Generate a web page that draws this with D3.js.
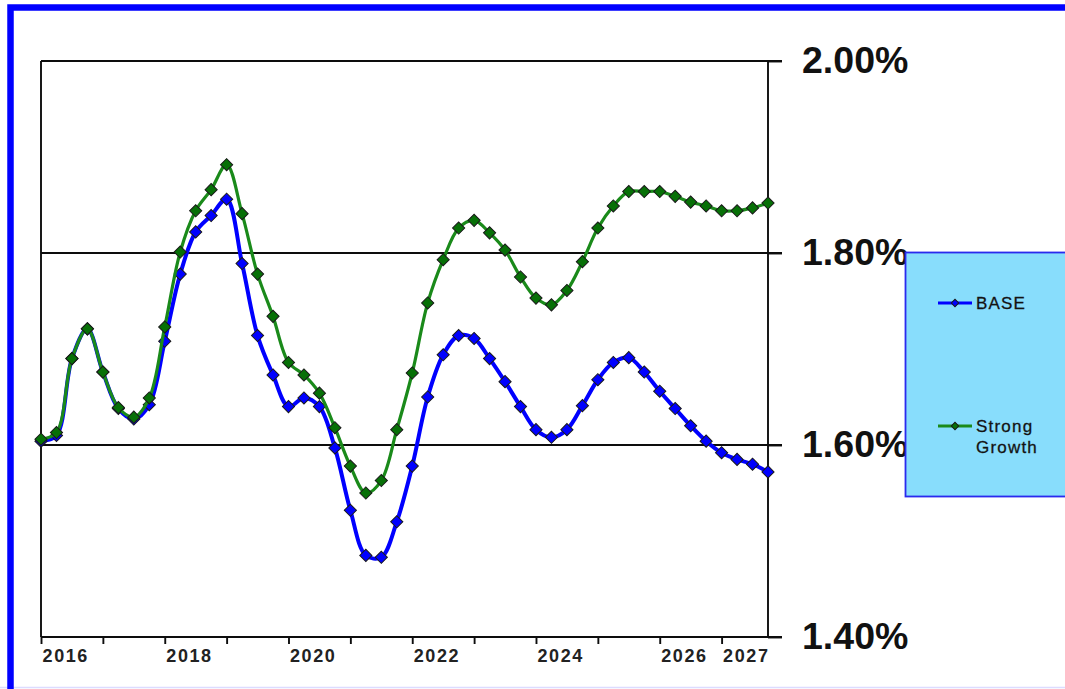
<!DOCTYPE html>
<html>
<head>
<meta charset="utf-8">
<script src="https://cdn.jsdelivr.net/npm/d3@7"></script>
<style>
  html, body { margin: 0; padding: 0; background: #fff; overflow: hidden; }
  svg { display: block; }
</style>
</head>
<body>
<svg id="chart" width="1065" height="689"></svg>
<script>
// Quarterly series, 2016 Q1 through 2027 Q4
const firstYear = 2016;
const yearTicks = [2016, 2017, 2018, 2019, 2020, 2021, 2022, 2023, 2024, 2025, 2026, 2027];
const yearLabels = [2016, 2018, 2020, 2022, 2024, 2026, 2027];
const rateTicks = [1.40, 1.60, 1.80, 2.00];
const gridRates = [1.60, 1.80];
const seriesNames = ["BASE", "Strong Growth"];

const baseValues = [
  1.604, 1.610, 1.690, 1.721, 1.676, 1.638, 1.627, 1.642, 1.708, 1.778, 1.822, 1.839, 1.856,
  1.789, 1.714, 1.673, 1.640, 1.649, 1.640, 1.597, 1.532, 1.485, 1.483, 1.520, 1.578,
  1.650, 1.694, 1.714, 1.711, 1.690, 1.666, 1.640, 1.616, 1.608, 1.616, 1.641, 1.668,
  1.686, 1.691, 1.676, 1.656, 1.638, 1.620, 1.604, 1.592, 1.585, 1.580, 1.572
];
const strongValues = [
  1.606, 1.613, 1.690, 1.721, 1.676, 1.639, 1.629, 1.649, 1.723, 1.801, 1.844, 1.866, 1.892,
  1.841, 1.778, 1.734, 1.686, 1.673, 1.654, 1.618, 1.578, 1.550, 1.563, 1.616, 1.675,
  1.748, 1.793, 1.826, 1.834, 1.821, 1.803, 1.775, 1.753, 1.746, 1.761, 1.791, 1.826,
  1.849, 1.864, 1.864, 1.864, 1.859, 1.853, 1.849, 1.844, 1.844, 1.847, 1.852
];

const svg = d3.select("#chart");

// Frame
svg.append("rect").attr("x", 0).attr("y", 0).attr("width", 1065).attr("height", 689).attr("fill", "#fff");
svg.append("line").attr("x1", 0).attr("x2", 1065).attr("y1", 687.5).attr("y2", 687.5)
  .attr("stroke", "#dcdcff").attr("stroke-width", 1.5);
svg.append("rect")
  .attr("x", 10.5).attr("y", 7.5).attr("width", 1100).attr("height", 720)
  .attr("fill", "none").attr("stroke", "#0000ff").attr("stroke-width", 6.5);

// Plot geometry
const plot = { left: 41, right: 768, top: 61, bottom: 637 };

// x: position measured in years from 2016 Q1
const x = d3.scaleLinear()
  .domain([firstYear, firstYear + (baseValues.length - 1) / 4])
  .range([plot.left, plot.right]);
const y = d3.scaleLinear()
  .domain([1.40, 2.00])
  .range([plot.bottom, plot.top]);

const axisColor = "#0d0d0d";
const axisWidth = 1.9;

// Horizontal gridlines and top border
svg.append("g").selectAll("line")
  .data(gridRates.concat([2.00]))
  .join("line")
  .attr("x1", plot.left).attr("x2", plot.right + 14)
  .attr("y1", d => y(d)).attr("y2", d => y(d))
  .attr("stroke", axisColor).attr("stroke-width", axisWidth);

// Left border
svg.append("line")
  .attr("x1", plot.left).attr("x2", plot.left)
  .attr("y1", y(2.00)).attr("y2", y(1.40))
  .attr("stroke", axisColor).attr("stroke-width", axisWidth);

// Bottom axis (year ticks)
const xAxis = d3.axisBottom(x)
  .tickValues(yearTicks)
  .tickSize(7)
  .tickSizeOuter(0)
  .tickFormat("");
const gx = svg.append("g")
  .attr("transform", `translate(0,${plot.bottom})`)
  .call(xAxis);
gx.select(".domain").remove();
gx.selectAll(".tick line").attr("stroke", axisColor).attr("stroke-width", axisWidth);
svg.append("line")
  .attr("x1", plot.left).attr("x2", plot.right + 14)
  .attr("y1", plot.bottom).attr("y2", plot.bottom)
  .attr("stroke", axisColor).attr("stroke-width", axisWidth);

svg.append("g").selectAll("text")
  .data(yearLabels)
  .join("text")
  .attr("x", d => x(d + 0.4))
  .attr("y", 662)
  .attr("text-anchor", "middle")
  .attr("font-family", "Arial, 'Liberation Sans', sans-serif")
  .attr("font-weight", "bold")
  .attr("font-size", 18)
  .attr("letter-spacing", 1.6)
  .attr("fill", "#222")
  .text(d => d);

// Right axis
const yAxis = d3.axisRight(y)
  .tickValues(rateTicks)
  .tickSize(14)
  .tickSizeOuter(0)
  .tickFormat(d => d3.format(".2f")(d) + "%");
const gy = svg.append("g")
  .attr("transform", `translate(${plot.right},0)`)
  .call(yAxis);
gy.select(".domain")
  .attr("d", `M0,${y(2.00)}V${y(1.40)}`)
  .attr("stroke", axisColor).attr("stroke-width", axisWidth);
gy.selectAll(".tick line").attr("stroke", axisColor).attr("stroke-width", axisWidth);
gy.selectAll(".tick text")
  .attr("x", 34)
  .attr("dy", 11.5)
  .attr("text-anchor", "start")
  .attr("font-family", "Arial, 'Liberation Sans', sans-serif")
  .attr("font-weight", "bold")
  .attr("font-size", 37.5)
  .attr("fill", "#111");

// Series
const series = [
  { name: seriesNames[0], values: baseValues, line: "#0000ff", marker: "#0000ff", width: 4 },
  { name: seriesNames[1], values: strongValues, line: "#1a8a1a", marker: "#077007", width: 3.2 }
];

const lineGen = d3.line()
  .x((d, i) => x(firstYear + i / 4))
  .y(d => y(d))
  .curve(d3.curveCatmullRom.alpha(0.5));

const diamond = d3.symbol().type(d3.symbolSquare).size(74)();

series.forEach(s => {
  const g = svg.append("g");
  g.append("path")
    .attr("d", lineGen(s.values))
    .attr("fill", "none")
    .attr("stroke", s.line)
    .attr("stroke-width", s.width)
    .attr("stroke-linejoin", "round");
  g.selectAll("path.marker")
    .data(s.values)
    .join("path")
    .attr("class", "marker")
    .attr("d", diamond)
    .attr("transform", (d, i) => `translate(${x(firstYear + i / 4)},${y(d)}) rotate(45)`)
    .attr("fill", s.marker)
    .attr("stroke", "#1a1a1a")
    .attr("stroke-width", 1);
});

// Legend
const legend = svg.append("g");
legend.append("rect")
  .attr("x", 905.5).attr("y", 252.5).attr("width", 200).attr("height", 244)
  .attr("fill", "#88ddfc").attr("stroke", "#2a2aee").attr("stroke-width", 1.8);

const legendRows = [
  { s: series[0], y: 303, lines: ["BASE"] },
  { s: series[1], y: 426, lines: ["Strong", "Growth"] }
];
const smallDiamond = d3.symbol().type(d3.symbolSquare).size(28)();
legendRows.forEach(r => {
  legend.append("line")
    .attr("x1", 938).attr("x2", 972).attr("y1", r.y).attr("y2", r.y)
    .attr("stroke", r.s.line).attr("stroke-width", 3);
  legend.append("path")
    .attr("d", smallDiamond)
    .attr("transform", `translate(955,${r.y}) rotate(45)`)
    .attr("fill", r.s.marker).attr("stroke", "#1a1a1a").attr("stroke-width", 1);
  const t = legend.append("text")
    .attr("x", 976).attr("y", r.y + 6)
    .attr("font-family", "Arial, 'Liberation Sans', sans-serif")
    .attr("font-size", 17)
    .attr("letter-spacing", 1.2)
    .attr("stroke", "#1a1a1a").attr("stroke-width", 0.3)
    .attr("fill", "#111");
  r.lines.forEach((ln, k) => {
    t.append("tspan").attr("x", 976).attr("dy", k === 0 ? 0 : 21).text(ln);
  });
});
</script>
</body>
</html>
